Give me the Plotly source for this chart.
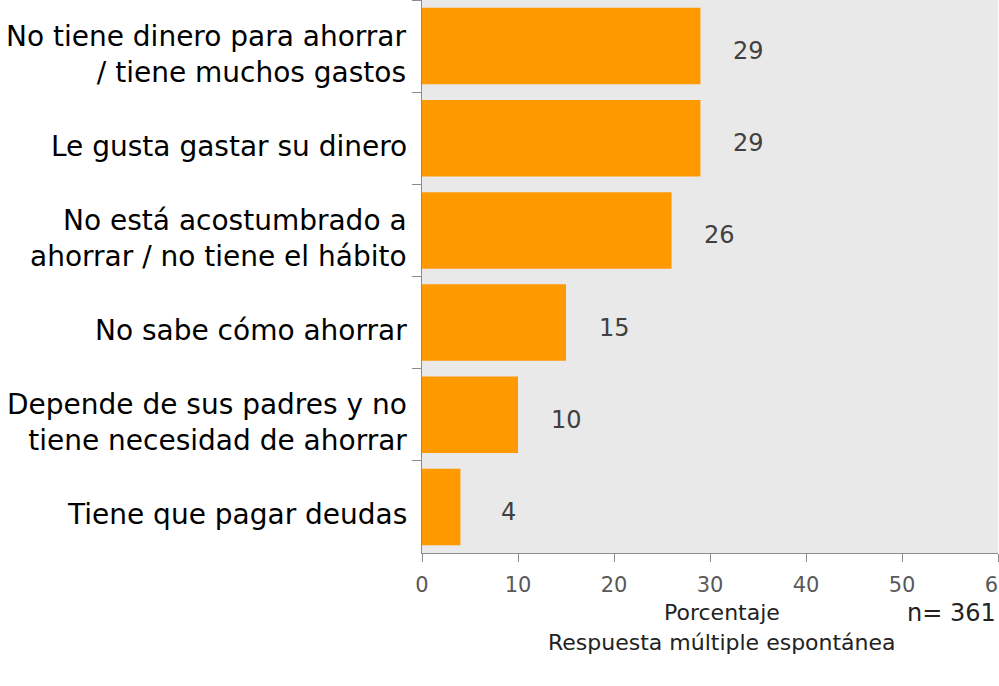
import plotly.graph_objects as go

categories = [
    "No tiene dinero para ahorrar<br>/ tiene muchos gastos",
    "Le gusta gastar su dinero",
    "No está acostumbrado a<br>ahorrar / no tiene el hábito",
    "No sabe cómo ahorrar",
    "Depende de sus padres y no<br>tiene necesidad de ahorrar",
    "Tiene que pagar deudas",
]
values = [29, 29, 26, 15, 10, 4]
x_ticks = [0, 10, 20, 30, 40, 50, 60]

ORANGE = "#FF9900"
FONT = "'DejaVu Sans', sans-serif"

fig = go.Figure()
fig.add_trace(go.Bar(
    x=values, y=categories, orientation="h",
    marker=dict(color=ORANGE, line=dict(width=0)),
    width=0.83, hoverinfo="skip",
))

for c, v in zip(categories, values):
    # value label
    fig.add_annotation(x=v, y=c, text=str(v), showarrow=False,
                       xanchor="center", yanchor="middle", xshift=48, yshift=-5,
                       font=dict(family=FONT, size=24, color="#404040"))
    # category label
    fig.add_annotation(x=0, xref="paper", y=c, text=c, showarrow=False,
                       xanchor="right", yanchor="middle", align="right",
                       xshift=-13, yshift=-8,
                       font=dict(family=FONT, size=28, color="#000000"))

fig.add_annotation(x=0.52, y=-0.108, xref="paper", yref="paper", text="Porcentaje",
                   showarrow=False, xanchor="center", yanchor="middle",
                   font=dict(family=FONT, size=22, color="#222222"))
fig.add_annotation(x=0.52, y=-0.162, xref="paper", yref="paper",
                   text="Respuesta múltiple espontánea",
                   showarrow=False, xanchor="center", yanchor="middle",
                   font=dict(family=FONT, size=22, color="#222222"))
fig.add_annotation(x=0.9995, y=-0.108, xref="paper", yref="paper", text="n= 361",
                   showarrow=False, xanchor="right", yanchor="middle",
                   font=dict(family=FONT, size=24, color="#222222"))

fig.update_layout(
    width=999, height=686,
    margin=dict(l=422, r=1, t=0, b=133, autoexpand=False),
    paper_bgcolor="white", plot_bgcolor="#e9e9e9",
    showlegend=False, bargap=0.17,
    xaxis=dict(range=[0, 60], tickvals=x_ticks, showgrid=False, zeroline=False,
               showline=True, linecolor="#8c8c8c", linewidth=1,
               ticks="outside", ticklen=8, tickcolor="#8c8c8c", ticklabelstandoff=5,
               ticklabeloverflow="allow",
               tickfont=dict(family=FONT, size=21, color="#595959"), fixedrange=True),
    yaxis=dict(categoryorder="array", categoryarray=categories, autorange="reversed",
               showgrid=False, zeroline=False, showline=True, linecolor="#8c8c8c",
               linewidth=1, ticks="outside", ticklen=9, tickcolor="#8c8c8c",
               tickson="boundaries", showticklabels=False, fixedrange=True),
)

fig.write_html("out.html", config={"displayModeBar": False},
               post_script="document.body.style.margin='0';document.body.style.overflow='hidden';")
